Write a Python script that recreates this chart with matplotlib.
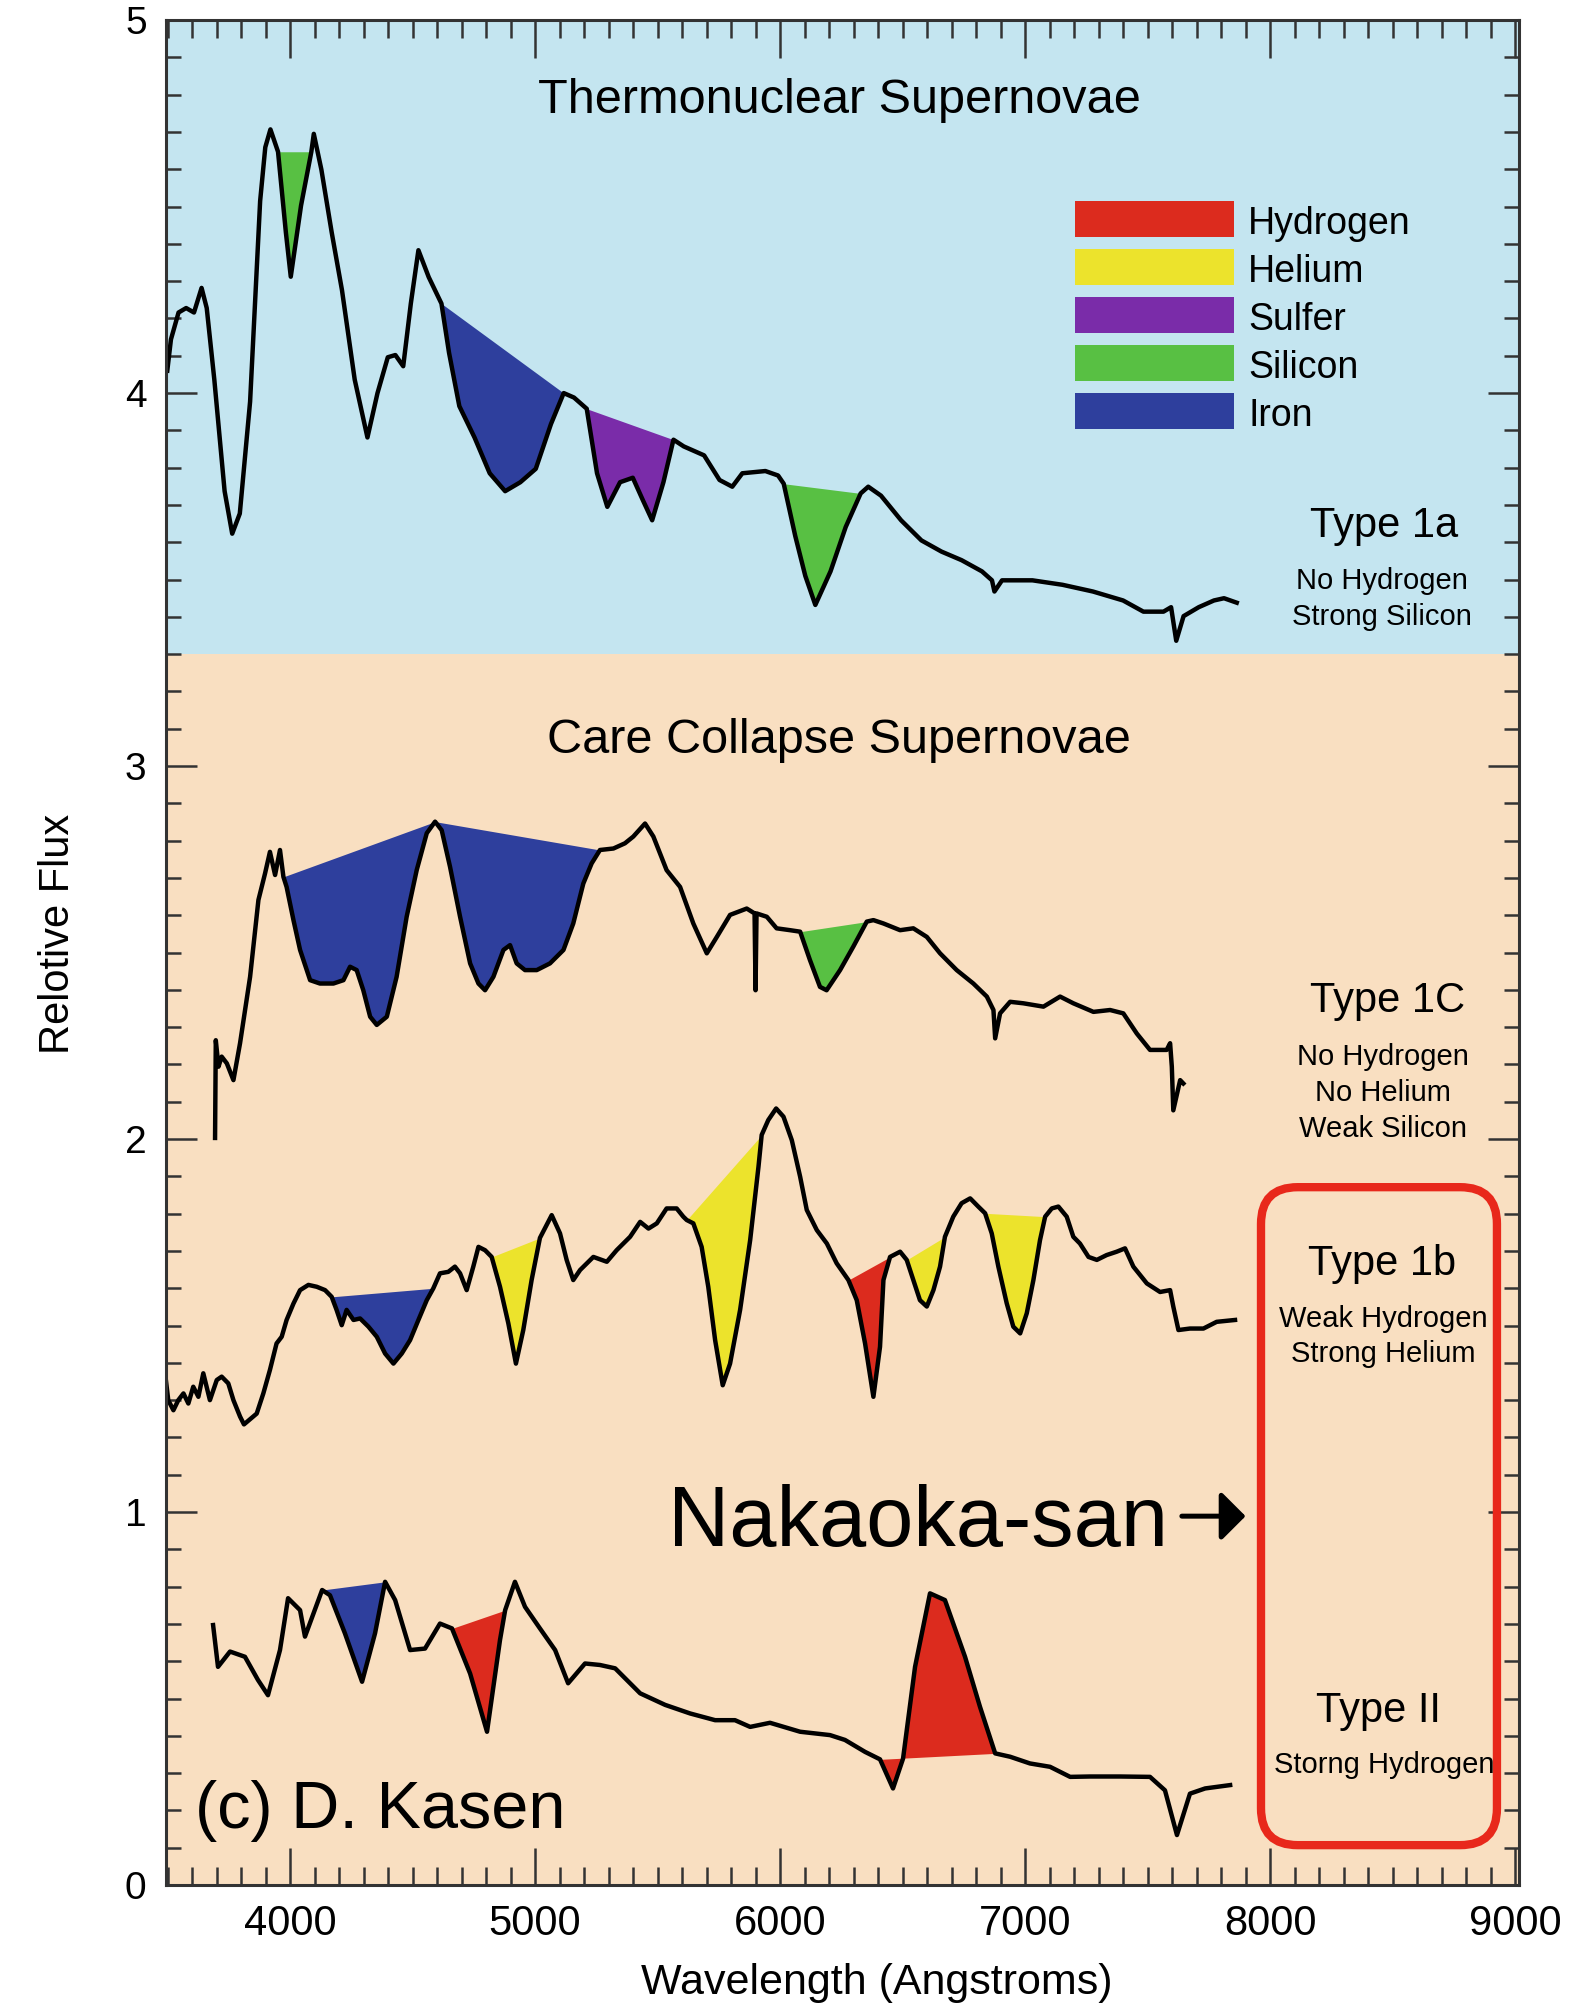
import matplotlib
matplotlib.use("Agg")
import matplotlib.pyplot as plt
from matplotlib.patches import FancyBboxPatch, Rectangle
from matplotlib.ticker import MultipleLocator
import numpy as np

plt.rcParams["font.family"] = ["Liberation Sans", "DejaVu Sans"]

# ---------------------------------------------------------------------------
# Spectra (wavelength in Angstroms, relative flux with vertical offsets)
# ---------------------------------------------------------------------------
WAVE_IA = [3499, 3514, 3545, 3576, 3608, 3639, 3660, 3691, 3733, 3764, 3795, 3837,
           3878, 3899, 3920, 3951, 3983, 4003, 4045, 4087, 4097, 4128, 4170, 4212,
           4264, 4316, 4357, 4399, 4430, 4462, 4493, 4524, 4566, 4618, 4649, 4691,
           4753, 4815, 4878, 4940, 5003, 5065, 5117, 5159, 5211, 5253, 5295, 5347,
           5399, 5440, 5478, 5524, 5565, 5607, 5690, 5753, 5805, 5846, 5940, 5992,
           6015, 6062, 6103, 6144, 6206, 6268, 6329, 6360, 6412, 6494, 6577, 6659,
           6741, 6824, 6865, 6875, 6906, 7030, 7153, 7277, 7400, 7483, 7565, 7596,
           7617, 7647, 7709, 7771, 7812, 7864]
FLUX_IA = [4.060, 4.144, 4.216, 4.228, 4.216, 4.282, 4.228, 4.036, 3.737, 3.623, 3.677, 3.977,
           4.515, 4.659, 4.707, 4.647, 4.431, 4.312, 4.503, 4.647, 4.695, 4.599, 4.431, 4.276,
           4.036, 3.881, 4.000, 4.096, 4.102, 4.072, 4.240, 4.383, 4.311, 4.240, 4.108, 3.965,
           3.881, 3.785, 3.737, 3.761, 3.797, 3.917, 4.000, 3.988, 3.958, 3.785, 3.695, 3.761,
           3.773, 3.713, 3.659, 3.761, 3.875, 3.857, 3.833, 3.767, 3.749, 3.785, 3.791, 3.779,
           3.757, 3.617, 3.510, 3.432, 3.522, 3.641, 3.731, 3.749, 3.725, 3.659, 3.605, 3.575,
           3.552, 3.522, 3.498, 3.468, 3.498, 3.498, 3.486, 3.468, 3.444, 3.414, 3.414, 3.426,
           3.336, 3.402, 3.426, 3.444, 3.450, 3.438]

WAVE_IC = [3694, 3697, 3708, 3721, 3742, 3769, 3796, 3837, 3871, 3898, 3918, 3939,
           3959, 3973, 3986, 4014, 4041, 4082, 4122, 4177, 4218, 4245, 4272, 4299,
           4327, 4354, 4395, 4435, 4476, 4517, 4558, 4592, 4619, 4653, 4694, 4735,
           4769, 4796, 4830, 4871, 4898, 4925, 4959, 5007, 5061, 5116, 5156, 5197,
           5231, 5265, 5320, 5367, 5401, 5449, 5483, 5537, 5592, 5646, 5701, 5742,
           5796, 5864, 5896, 5900, 5904, 5946, 5986, 6041, 6082, 6122, 6163, 6190,
           6245, 6299, 6354, 6381, 6422, 6490, 6544, 6599, 6653, 6721, 6789, 6844,
           6871, 6878, 6898, 6939, 6993, 7075, 7143, 7197, 7279, 7347, 7401, 7456,
           7510, 7578, 7592, 7599, 7605, 7633, 7646]
FLUX_IC = [2.003, 2.265, 2.194, 2.221, 2.203, 2.158, 2.257, 2.435, 2.641, 2.712, 2.770, 2.708,
           2.775, 2.703, 2.676, 2.587, 2.507, 2.426, 2.417, 2.417, 2.426, 2.462, 2.453, 2.399,
           2.328, 2.306, 2.328, 2.435, 2.596, 2.721, 2.820, 2.851, 2.828, 2.730, 2.596, 2.471,
           2.417, 2.399, 2.435, 2.507, 2.520, 2.471, 2.453, 2.453, 2.471, 2.507, 2.578, 2.685,
           2.739, 2.775, 2.779, 2.793, 2.811, 2.846, 2.811, 2.721, 2.676, 2.578, 2.498, 2.542,
           2.601, 2.618, 2.605, 2.399, 2.605, 2.596, 2.565, 2.560, 2.556, 2.480, 2.408, 2.399,
           2.453, 2.516, 2.583, 2.587, 2.578, 2.560, 2.565, 2.542, 2.498, 2.453, 2.417, 2.382,
           2.346, 2.270, 2.337, 2.368, 2.364, 2.355, 2.382, 2.364, 2.341, 2.346, 2.337, 2.283,
           2.239, 2.239, 2.257, 2.194, 2.077, 2.158, 2.149]

WAVE_IB = [3490, 3503, 3524, 3544, 3565, 3585, 3605, 3626, 3646, 3673, 3701, 3721,
           3748, 3769, 3796, 3812, 3830, 3864, 3891, 3918, 3945, 3966, 3986, 4014,
           4041, 4075, 4109, 4143, 4170, 4190, 4211, 4231, 4259, 4286, 4320, 4354,
           4388, 4422, 4456, 4490, 4524, 4558, 4585, 4612, 4646, 4673, 4694, 4721,
           4748, 4769, 4796, 4823, 4857, 4891, 4922, 4952, 4986, 5020, 5068, 5102,
           5129, 5156, 5184, 5238, 5293, 5333, 5388, 5429, 5463, 5497, 5537, 5578,
           5605, 5619, 5646, 5680, 5707, 5735, 5766, 5796, 5837, 5878, 5912, 5925,
           5952, 5984, 6014, 6048, 6082, 6109, 6150, 6191, 6231, 6279, 6313, 6347,
           6381, 6408, 6422, 6449, 6490, 6517, 6544, 6571, 6599, 6626, 6653, 6673,
           6707, 6741, 6776, 6809, 6837, 6864, 6891, 6925, 6952, 6980, 7007, 7034,
           7061, 7082, 7109, 7136, 7170, 7197, 7224, 7259, 7293, 7333, 7374, 7408,
           7442, 7497, 7551, 7592, 7605, 7626, 7673, 7728, 7782, 7857]
FLUX_IB = [1.372, 1.300, 1.273, 1.300, 1.318, 1.291, 1.336, 1.309, 1.372, 1.300, 1.354, 1.363,
           1.345, 1.300, 1.256, 1.235, 1.245, 1.264, 1.318, 1.381, 1.452, 1.470, 1.515, 1.559,
           1.595, 1.609, 1.604, 1.595, 1.577, 1.542, 1.501, 1.542, 1.515, 1.519, 1.497, 1.470,
           1.425, 1.398, 1.425, 1.461, 1.515, 1.568, 1.600, 1.640, 1.644, 1.658, 1.640, 1.595,
           1.658, 1.711, 1.702, 1.684, 1.604, 1.506, 1.398, 1.488, 1.622, 1.735, 1.796, 1.747,
           1.676, 1.622, 1.649, 1.684, 1.671, 1.702, 1.738, 1.778, 1.760, 1.774, 1.814, 1.814,
           1.792, 1.783, 1.774, 1.711, 1.604, 1.461, 1.340, 1.398, 1.542, 1.729, 1.926, 2.011,
           2.051, 2.082, 2.060, 1.997, 1.899, 1.810, 1.756, 1.720, 1.667, 1.622, 1.568, 1.452,
           1.309, 1.443, 1.622, 1.684, 1.698, 1.676, 1.622, 1.568, 1.551, 1.595, 1.658, 1.738,
           1.792, 1.828, 1.841, 1.819, 1.801, 1.747, 1.658, 1.560, 1.497, 1.479, 1.533, 1.622,
           1.729, 1.792, 1.814, 1.819, 1.792, 1.738, 1.720, 1.684, 1.676, 1.689, 1.698, 1.707,
           1.658, 1.613, 1.590, 1.595, 1.551, 1.488, 1.492, 1.492, 1.510, 1.515]

WAVE_II = [3686, 3706, 3755, 3816, 3869, 3910, 3959, 3992, 4041, 4061, 4131, 4163,
           4224, 4294, 4347, 4388, 4429, 4490, 4551, 4612, 4661, 4735, 4804, 4857,
           4878, 4918, 4959, 5020, 5082, 5135, 5204, 5265, 5327, 5429, 5531, 5633,
           5735, 5816, 5878, 5959, 6082, 6204, 6265, 6347, 6408, 6461, 6502, 6551,
           6612, 6673, 6755, 6816, 6878, 6939, 7020, 7102, 7184, 7265, 7388, 7510,
           7571, 7620, 7673, 7735, 7837]
FLUX_II = [0.697, 0.585, 0.626, 0.612, 0.550, 0.509, 0.630, 0.769, 0.737, 0.666, 0.791, 0.777,
           0.675, 0.545, 0.675, 0.813, 0.764, 0.630, 0.634, 0.701, 0.688, 0.567, 0.411, 0.657,
           0.737, 0.813, 0.746, 0.688, 0.630, 0.541, 0.594, 0.590, 0.581, 0.514, 0.483, 0.460,
           0.442, 0.442, 0.424, 0.435, 0.411, 0.402, 0.389, 0.357, 0.337, 0.259, 0.339, 0.585,
           0.782, 0.764, 0.612, 0.478, 0.353, 0.344, 0.326, 0.317, 0.290, 0.291, 0.291, 0.290,
           0.254, 0.134, 0.245, 0.259, 0.268]

# line features: (start wavelength, end wavelength, element)
FEATURES_IA = [(3951, 4087, "Silicon"), (4618, 5117, "Iron"),
               (5211, 5565, "Sulfer"), (6015, 6329, "Silicon")]
FEATURES_IC = [(3973, 4592, "Iron"), (4592, 5265, "Iron"), (6082, 6354, "Silicon")]
FEATURES_IB = [(4170, 4585, "Iron"), (4823, 5020, "Helium"), (5619, 5925, "Helium"),
               (6279, 6449, "Hydrogen"), (6517, 6673, "Helium"), (6837, 7082, "Helium")]
FEATURES_II = [(4131, 4388, "Iron"), (4661, 4878, "Hydrogen"), (6408, 6878, "Hydrogen")]

ELEMENTS = ["Hydrogen", "Helium", "Sulfer", "Silicon", "Iron"]
ELEMENT_COLORS = {
    "Hydrogen": "#dc2b1e",
    "Helium":   "#ece32c",
    "Sulfer":   "#7a2ca9",
    "Silicon":  "#58c043",
    "Iron":     "#2e3f9d",
}

BG_BLUE = "#c4e5f0"
BG_PEACH = "#f9dfc1"
SPLIT_Y = 3.3


def shade(ax, wave, flux, lo, hi, color):
    """Fill between the spectrum and the straight chord across a feature."""
    wave = np.asarray(wave, float)
    flux = np.asarray(flux, float)
    xs = np.union1d(np.linspace(lo, hi, 400), wave[(wave > lo) & (wave < hi)])
    ys = np.interp(xs, wave, flux)
    chord = np.interp(xs, [lo, hi], [ys[0], ys[-1]])
    ax.fill_between(xs, ys, chord, color=color, lw=0, zorder=2)


fig = plt.figure(figsize=(15.71, 20.09), dpi=100)
ax = fig.add_axes([0.1057, 0.0617, 0.8612, 0.9283])
ax.set_xlim(3494, 9016)
ax.set_ylim(0, 5)

ax.axhspan(SPLIT_Y, 5, color=BG_BLUE, lw=0, zorder=0)
ax.axhspan(0, SPLIT_Y, color=BG_PEACH, lw=0, zorder=0)

spectra = [(WAVE_IA, FLUX_IA, FEATURES_IA), (WAVE_IC, FLUX_IC, FEATURES_IC),
           (WAVE_IB, FLUX_IB, FEATURES_IB), (WAVE_II, FLUX_II, FEATURES_II)]
for wave, flux, feats in spectra:
    for lo, hi, el in feats:
        shade(ax, wave, flux, lo, hi, ELEMENT_COLORS[el])
    ax.plot(wave, flux, color="black", lw=3.2, zorder=3, solid_joinstyle="round")

# element key
key_x0, key_x1 = 7205, 7853
key_y0, key_step, key_h = 4.467, -0.129, 0.096
for i, el in enumerate(ELEMENTS):
    yc = key_y0 + i * key_step
    ax.add_patch(Rectangle((key_x0, yc - key_h / 2), key_x1 - key_x0, key_h,
                           facecolor=ELEMENT_COLORS[el], edgecolor="none", zorder=4))
    ax.text(7911, yc - 0.040, el, fontsize=27, ha="left", va="baseline", zorder=5)

# section titles
ax.text(6241, 4.752, "Thermonuclear Supernovae", fontsize=35, ha="center", va="baseline")
ax.text(6241, 3.035, "Care Collapse Supernovae", fontsize=35, ha="center", va="baseline")

# type labels
ax.text(8465, 3.615, "Type 1a", fontsize=30, ha="center", va="baseline", zorder=6)
ax.text(8455, 3.474, "No Hydrogen", fontsize=21, ha="center", va="baseline", zorder=6)
ax.text(8455, 3.378, "Strong Silicon", fontsize=21, ha="center", va="baseline", zorder=6)

ax.text(8481, 2.340, "Type 1C", fontsize=30, ha="center", va="baseline", zorder=6)
ax.text(8460, 2.198, "No Hydrogen", fontsize=21, ha="center", va="baseline", zorder=6)
ax.text(8460, 2.102, "No Helium", fontsize=21, ha="center", va="baseline", zorder=6)
ax.text(8460, 2.006, "Weak Silicon", fontsize=21, ha="center", va="baseline", zorder=6)

ax.text(8457, 1.635, "Type 1b", fontsize=30, ha="center", va="baseline", zorder=6)
ax.text(8461, 1.496, "Weak Hydrogen", fontsize=21, ha="center", va="baseline", zorder=6)
ax.text(8461, 1.402, "Strong Helium", fontsize=21, ha="center", va="baseline", zorder=6)

ax.text(8441, 0.437, "Type II", fontsize=30, ha="center", va="baseline", zorder=6)
ax.text(8465, 0.300, "Storng Hydrogen", fontsize=21, ha="center", va="baseline", zorder=6)

# highlight box around the last two types
box = FancyBboxPatch((7963, 0.107), 8926 - 7963, 1.871 - 0.107,
                     boxstyle="round,pad=0,rounding_size=150",
                     mutation_aspect=0.000657,
                     facecolor="none", edgecolor="#e8281b", lw=6, zorder=5)
ax.add_patch(box)

ax.text(5543, 0.909, "Nakaoka-san", fontsize=61, ha="left", va="baseline", zorder=6)
ax.annotate("", xy=(7900, 0.989), xytext=(7640, 0.989),
            arrowprops=dict(arrowstyle="-|>,head_length=0.5,head_width=0.5",
                            lw=3.6, color="black", mutation_scale=30,
                            shrinkA=0, shrinkB=0),
            zorder=6)
ax.text(3612, 0.153, "(c) D. Kasen", fontsize=48, ha="left", va="baseline", zorder=6)

# axes, ticks
ax.set_xticks(range(4000, 9001, 1000))
ax.set_yticks(range(0, 6))
ax.xaxis.set_minor_locator(MultipleLocator(100))
ax.yaxis.set_minor_locator(MultipleLocator(0.1))
ax.tick_params(which="both", direction="in", top=True, right=True,
               width=1.8, color="#333333")
ax.tick_params(axis="x", which="major", length=27, labelsize=30, pad=14)
ax.tick_params(axis="x", which="minor", length=13)
ax.tick_params(axis="y", which="major", length=22, labelsize=28, pad=14)
ax.tick_params(axis="y", which="minor", length=11)
for sp in ax.spines.values():
    sp.set_linewidth(2.2)
    sp.set_color("#333333")
    sp.set_zorder(7)

ax.set_xlabel("Wavelength (Angstroms)", fontsize=31)
ax.xaxis.set_label_coords(0.525, -0.042)
ax.set_ylabel("Relotive Flux", fontsize=30)
ax.yaxis.set_label_coords(-0.065, 0.51)

fig.savefig("out.png", dpi=100)
